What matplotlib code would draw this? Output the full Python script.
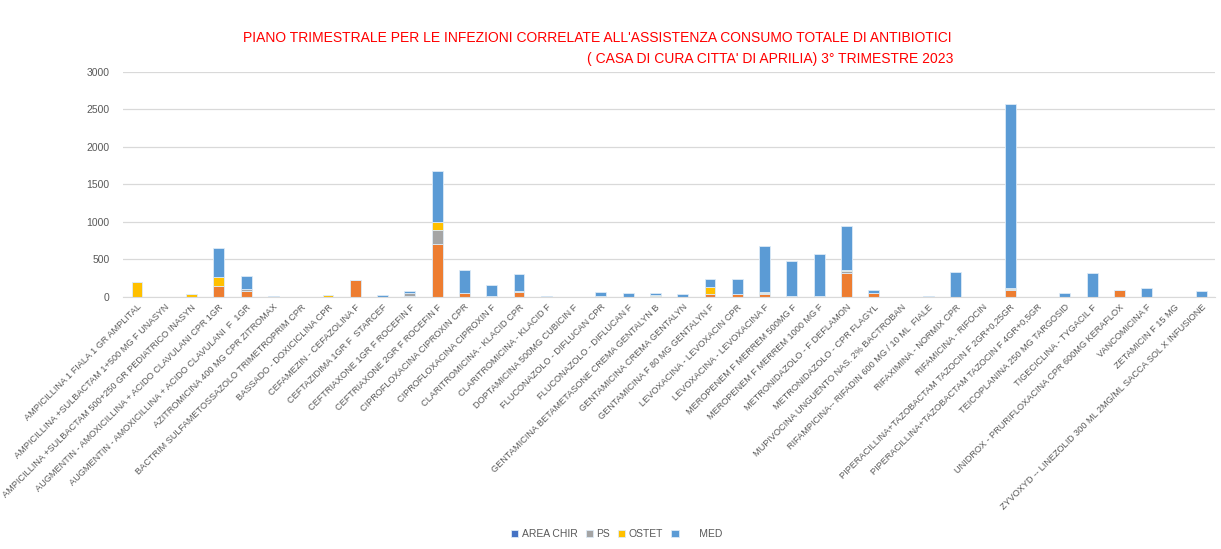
import numpy as np
import matplotlib.pyplot as plt

plt.rcParams['font.family'] = ['Liberation Sans', 'DejaVu Sans']

farmaci = [
    "AMPICILLINA 1 FIALA 1 GR AMPLITAL",
    "AMPICILLINA +SULBACTAM 1+500 MG F UNASYN",
    "AMPICILLINA +SULBACTAM 500+250 GR PEDIATRICO INASYN",
    "AUGMENTIN - AMOXICILLINA + ACIDO CLAVULANI CPR 1GR",
    "AUGMENTIN - AMOXICILLINA + ACIDO CLAVULANI  F  1GR",
    "AZITROMICINA 400 MG CPR ZITROMAX",
    "BACTRIM SULFAMETOSSAZOLO TRIMETROPRIM CPR",
    "BASSADO - DOXICICLINA CPR",
    "CEFAMEZIN - CEFAZOLINA F",
    "CEFTAZIDIMA 1GR F  STARCEF",
    "CEFTRIAXONE 1GR F ROCEFIN F",
    "CEFTRIAXONE 2GR F ROCEFIN F",
    "CIPROFLOXACINA CIPROXIN CPR",
    "CIPROFLOXACINA CIPROXIN F",
    "CLARITROMICINA - KLACID CPR",
    "CLARITROMICINA - KLACID F",
    "DOPTAMICINA 500MG CUBICIN F",
    "FLUCONAZOLO - DIFLUCAN CPR",
    "FLUCONAZOLO - DIFLUCAN F",
    "GENTAMICINA BETAMETASONE CREMA GENTALYN B",
    "GENTAMICINA CREMA GENTALYN",
    "GENTAMICINA F 80 MG GENTALYN F",
    "LEVOXACINA - LEVOXACIN CPR",
    "LEVOXACINA - LEVOXACINA F",
    "MEROPENEM F MERREM 500MG F",
    "MEROPENEM F MERREM 1000 MG F",
    "METRONIDAZOLO - F DEFLAMON",
    "METRONIDAZOLO - CPR FLAGYL",
    "MUPIVOCINA UNGUENTO NAS. 2% BACTROBAN",
    "RIFAMPICINA-- RIFADIN 600 MG / 10 ML  FIALE",
    "RIFAXIMINA - NORMIX CPR",
    "RIFAMICINA - RIFOCIN",
    "PIPERACILLINA+TAZOBACTAM TAZOCIN F 2GR+0,25GR",
    "PIPERACILLINA+TAZOBACTAM TAZOCIN F 4GR+0,5GR",
    "TEICOPLANINA 250 MG TARGOSID",
    "TIGECICLINA - TYGACIL F",
    "UNIDROX - PRURIFLOXACINA CPR 600MG KERAFLOX",
    "VANCOMICINA F",
    "ZETAMICIN F 15 MG",
    "ZYVOXYD -- LINEZOLID 300 ML 2MG/ML SACCA SOL X INFUSIONE",
]

area_chir = [0] * 40
arancio = [0, 0, 0, 145, 85, 0, 0, 0, 230, 0,
           10, 700, 60, 10, 70, 0, 0, 0, 0, 8,
           0, 45, 35, 40, 8, 8, 320, 55, 0, 0,
           0, 0, 95, 0, 0, 0, 93, 0, 0, 0]
ps = [0, 0, 0, 0, 20, 0, 0, 0, 0, 0,
      50, 190, 0, 0, 12, 0, 0, 0, 0, 5,
      0, 0, 0, 20, 0, 0, 30, 0, 0, 0,
      0, 0, 15, 0, 0, 0, 0, 0, 0, 0]
ostet = [195, 0, 40, 120, 0, 0, 0, 25, 0, 0,
         0, 110, 0, 0, 0, 0, 0, 8, 0, 15,
         0, 90, 0, 5, 0, 0, 15, 0, 0, 0,
         0, 0, 15, 0, 0, 0, 0, 0, 0, 0]
med = [0, 0, 0, 385, 175, 12, 0, 0, 0, 25,
       25, 675, 300, 150, 220, 12, 0, 58, 50, 25,
       40, 100, 200, 610, 475, 560, 575, 45, 0, 12,
       330, 0, 2445, 0, 60, 318, 0, 124, 0, 80]

serie = [("AREA CHIR", area_chir, "#4472C4"),
         ("", arancio, "#ED7D31"),
         ("PS", ps, "#A5A5A5"),
         ("OSTET", ostet, "#FFC000"),
         ("      MED", med, "#5B9BD5")]

fig = plt.figure(figsize=(12.21, 5.49), dpi=100)
ax = fig.add_axes([0.101, 0.459, 0.894, 0.410])

x = np.arange(len(farmaci))
base = np.zeros(len(farmaci))
for nome, valori, colore in serie:
    v = np.array(valori, dtype=float)
    ax.bar(x, v, 0.4, bottom=base, color=colore, edgecolor="#DDEBF7",
           linewidth=0.6, label=nome)
    base += v

ax.set_ylim(0, 3000)
ax.set_xlim(-0.5, len(farmaci) - 0.5)
ax.set_yticks(range(0, 3001, 500))
ax.yaxis.grid(True, color="#D9D9D9", linewidth=0.9)
ax.set_axisbelow(True)
for s in ["top", "right", "left"]:
    ax.spines[s].set_visible(False)
ax.spines["bottom"].set_color("#D9D9D9")
ax.tick_params(axis="y", length=0, labelsize=7.5, labelcolor="#595959", pad=10)
ax.tick_params(axis="x", length=0, labelsize=6.6, labelcolor="#595959", pad=4)
ax.set_xticks(x)
ax.set_xticklabels(farmaci, rotation=45, ha="right", rotation_mode="anchor")

fig.text(0.489, 0.930, "PIANO TRIMESTRALE PER LE INFEZIONI CORRELATE ALL'ASSISTENZA CONSUMO TOTALE DI ANTIBIOTICI",
         color="red", fontsize=10, ha="center", va="center")
fig.text(0.631, 0.892, "( CASA DI CURA CITTA' DI APRILIA) 3° TRIMESTRE 2023",
         color="red", fontsize=10, ha="center", va="center")

fig.legend(loc="center", bbox_to_anchor=(0.505, 0.027), ncol=5, frameon=False,
           fontsize=7.5, handlelength=0.7, handleheight=0.7, handletextpad=0.3,
           columnspacing=0.8, labelcolor="#595959")

fig.savefig("out.png", dpi=100)
